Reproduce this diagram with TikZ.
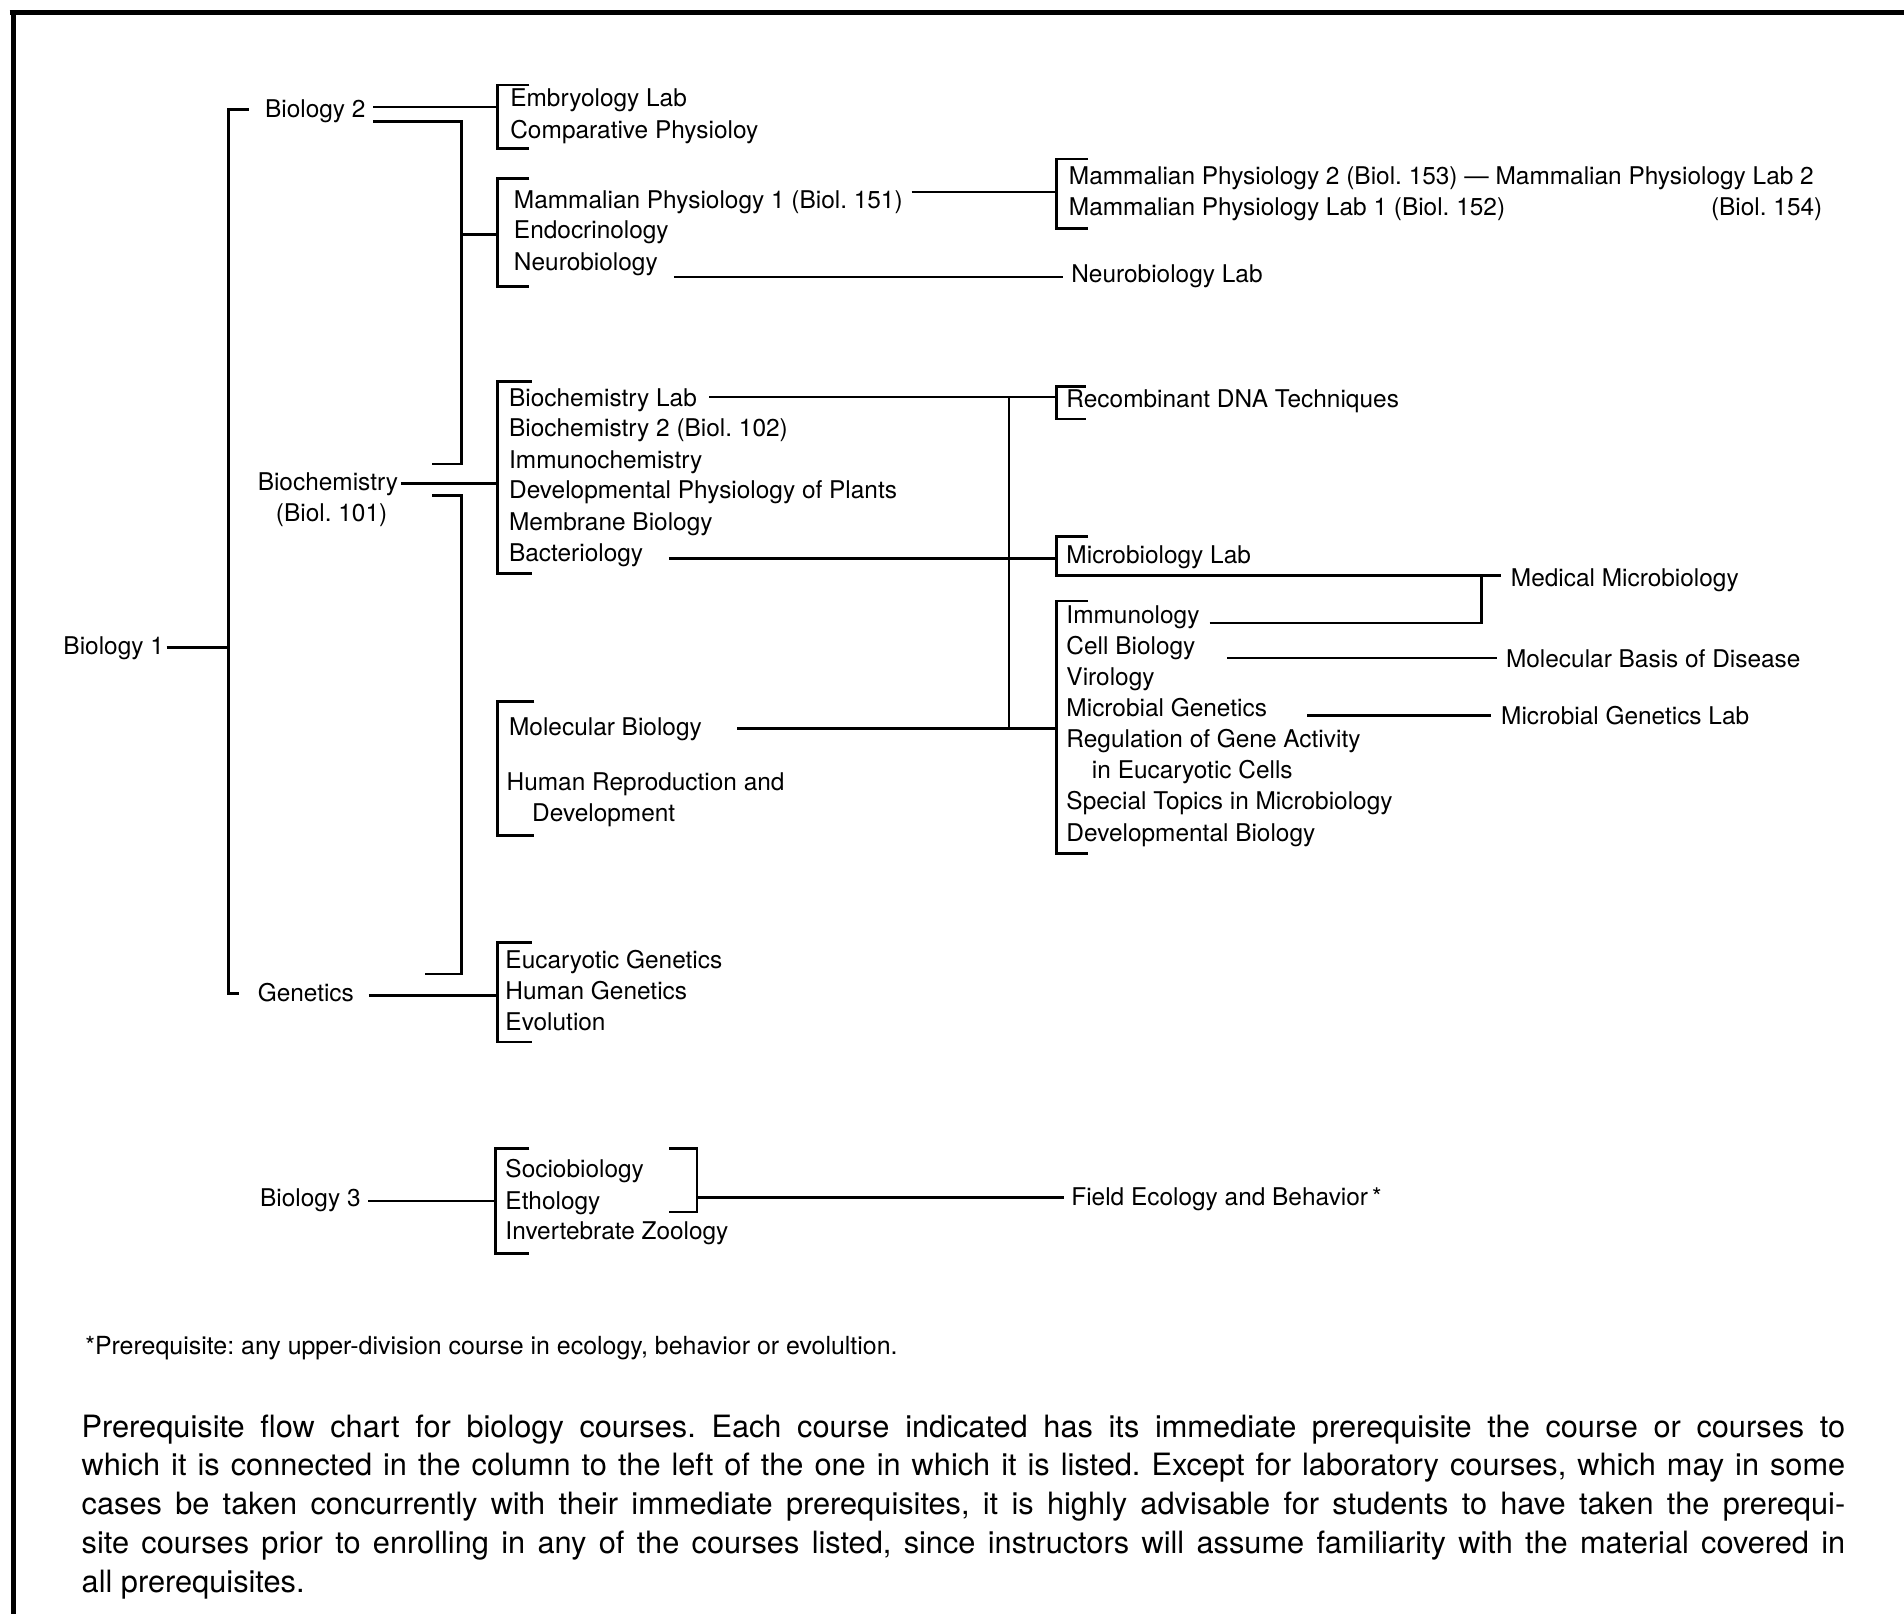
\documentclass[tikz,border=0pt]{standalone}
\usepackage{fontspec}
\setmainfont{TeX Gyre Heros}
\usetikzlibrary{calc}
\frenchspacing
\newcommand{\dfont}{\fontsize{14.3}{18}\selectfont}
\newcommand{\ffont}{\fontsize{14.6}{17}\selectfont}
\newcommand{\cfont}{\fontsize{18}{22}\selectfont}
% left bracket: name, x, ytop, ybottom, tick
\newcommand{\brkL}[5]{%
  \coordinate (#1) at (#2,#3);
  \draw[brk] (#2+#5,#3) -- (#2,#3) -- (#2,#4) -- (#2+#5,#4);}
\begin{document}
\begin{tikzpicture}[x=0.025cm,y=-0.025cm,
  lab/.style={anchor=west, inner sep=0pt, font=\dfont, text height=1.06em, text depth=0.1em},
  labe/.style={lab, anchor=east},
  fnote/.style={anchor=west, inner sep=0pt, font=\ffont, text height=1.06em, text depth=0.1em},
  capline/.style={anchor=west, inner sep=0pt, font=\cfont, text height=1.02em, text depth=0.1em},
  conn/.style={line width=1.5pt},
  brk/.style={line width=1.6pt},
  frame/.style={line width=2.8pt}]
\useasboundingbox (0,0) rectangle (1568,1329);

% frame (top and left only)
\draw[frame] (8,10) -- (1568,10);
\draw[frame] (11,9) -- (11,1329);

% ---------- column 1 / 2 texts
\node[lab] (bio1) at (52,532) {Biology 1};
\node[lab] (bio2) at (218,90) {Biology 2};
\node[lab] (biochem) at (212,397) {Biochemistry};
\node[lab] (biol101) at (227,423) {(Biol. 101)};
\node[lab] (genet) at (212,818) {Genetics};
\node[lab] (bio3) at (214,987) {Biology 3};

% ---------- column 3 texts
\node[lab] (embryo) at (420,81) {Embryology Lab};
\node[lab] (compphys) at (420,107) {Comparative Physioloy};
\node[lab] (mamm1) at (423,165) {Mammalian Physiology 1 (Biol. 151)};
\node[lab] (endo) at (423,190) {Endocrinology};
\node[lab] (neuro) at (423,216) {Neurobiology};
\node[lab] (bclab) at (419,328) {Biochemistry Lab};
\node[lab] (bc2) at (419,353) {Biochemistry 2 (Biol. 102)};
\node[lab] (immchem) at (419,379) {Immunochemistry};
\node[lab] (devplants) at (419,404) {Developmental Physiology of Plants};
\node[lab] (membr) at (419,430) {Membrane Biology};
\node[lab] (bact) at (419,456) {Bacteriology};
\node[lab] (molbio) at (419,599) {Molecular Biology};
\node[lab] (humrep) at (417,644) {Human Reproduction and};
\node[lab] (humrep2) at (438,670) {Development};
\node[lab] (eucgen) at (416,791) {Eucaryotic Genetics};
\node[lab] (humgen) at (416,816) {Human Genetics};
\node[lab] (evol) at (416,842) {Evolution};
\node[lab] (socio) at (416,963) {Sociobiology};
\node[lab] (etho) at (416,989) {Ethology};
\node[lab] (invz) at (416,1014) {Invertebrate Zoology};

% ---------- column 4 texts
\node[lab] (mamm2) at (880,145) {Mammalian Physiology 2 (Biol. 153) — Mammalian Physiology Lab 2};
\node[lab] (mamlab1) at (880,171) {Mammalian Physiology Lab 1 (Biol. 152)};
\node[labe] (b154) at (1501,171) {(Biol. 154)};
\node[lab] (neurolab) at (882,226) {Neurobiology Lab};
\node[lab] (recomb) at (878,329) {Recombinant DNA Techniques};
\node[lab] (microlab) at (878,457) {Microbiology Lab};
\node[lab] (immun) at (878,507) {Immunology};
\node[lab] (cellbio) at (878,532) {Cell Biology};
\node[lab] (virol) at (878,558) {Virology};
\node[lab] (micgen) at (878,583) {Microbial Genetics};
\node[lab] (reggene) at (878,609) {Regulation of Gene Activity};
\node[lab] (reggene2) at (899,634) {in Eucaryotic Cells};
\node[lab] (spectop) at (878,660) {Special Topics in Microbiology};
\node[lab] (devbio) at (878,686) {Developmental Biology};
\node[lab] (field) at (882,986) {Field Ecology and Behavior\,*};

% ---------- column 5 texts
\node[lab] (medmicro) at (1244,476) {Medical Microbiology};
\node[lab] (molbasis) at (1240,543) {Molecular Basis of Disease};
\node[lab] (micgenlab) at (1236,590) {Microbial Genetics Lab};

% ---------- footnote and caption
\node[fnote] (foot) at (70,1109) {*Prerequisite: any upper-division course in ecology, behavior or evolultion.};
\node[capline] (cap1) at (67,1177) {\makebox[36.3cm][s]{Prerequisite flow chart for biology courses. Each course indicated has its immediate prerequisite the course or courses to}};
\node[capline] (cap2) at (67,1209) {\makebox[36.3cm][s]{which it is connected in the column to the left of the one in which it is listed. Except for laboratory courses, which may in some}};
\node[capline] (cap3) at (67,1241) {\makebox[36.3cm][s]{cases be taken concurrently with their immediate prerequisites, it is highly advisable for students to have taken the prerequi-}};
\node[capline] (cap4) at (67,1273) {\makebox[36.3cm][s]{site courses prior to enrolling in any of the courses listed, since instructors will assume familiarity with the material covered in}};
\node[capline] (cap5) at (67,1305) {all prerequisites.};

% ---------- brackets
\brkL{brEmb}{410}{70}{122}{26}
\brkL{brMam}{410}{147}{236}{26}
\brkL{brBio}{410}{314}{472}{28}
\brkL{brMol}{410}{578}{688}{30}
\brkL{brEuc}{410}{776}{858}{28}
\brkL{brSoc}{408}{946}{1032}{28}
\brkL{brMam2}{870}{131}{188}{26}
\brkL{brRec}{870}{318}{345}{24}
\brkL{brBig}{870}{495}{703}{26}
% Microbiology Lab bracket whose foot runs on to Medical Microbiology
\coordinate (brMic) at (870,442);
\draw[brk] (896,442) -- (brMic) -- (870,474) -- ($(medmicro.west)+(-8,-2)$);
% right bracket of the Biology 3 group
\coordinate (brSocR) at (574,946);
\draw[brk] (551,946) -- (brSocR) -- (574,998) -- (551,998);

% ---------- Biology 1 tree
\coordinate (sp1) at (188,90);
\draw[conn] ($(bio1.east)+(2,1)$) coordinate (b1s) -- (b1s -| sp1);
\draw[conn] (205,90) -- (sp1) -- (188,818) -- (197,818);

% ---------- Biology 2
\draw[conn] ($(bio2.east)+(6,-2)$) coordinate (b2a) -- (b2a -| brEmb);
\coordinate (sp2) at (380,100);
\draw[conn] ($(bio2.east)+(6,10)$) coordinate (b2b) -- (sp2) -- (380,382) -- (356,382);
\draw[conn] (380,193) -- (380,193 -| brMam);

% ---------- Biochemistry
\draw[conn] ($(biochem.east)+(2,1)$) coordinate (bcs) -- (bcs -| brBio);
\coordinate (sp3) at (380,408);
\draw[conn] (356,408) -- (sp3) -- (380,802) -- (350,802);

% ---------- Genetics, Biology 3
\draw[conn] ($(genet.east)+(12,2)$) coordinate (gs) -- (gs -| brEuc);
\draw[conn] ($(bio3.east)+(6,2)$) coordinate (b3s) -- (b3s -| brSoc);
\draw[conn] (574,986) -- ($(field.west)+(-6,0)$);

% ---------- column 3 -> 4
\draw[conn] ($(mamm1.east)+(7,-7)$) coordinate (m1s) -- (m1s -| brMam2);
\draw[conn] ($(neuro.east)+(13,12)$) -- ($(neurolab.west)+(-7,2)$);
\draw[conn] ($(bclab.east)+(10,-1)$) coordinate (bls) -- (bls -| brRec);
\coordinate (sp4) at (831,327);
\draw[conn] (sp4) -- (831,600);
\draw[conn] ($(bact.east)+(21,4)$) coordinate (bas) -- (bas -| brMic);
\draw[conn] ($(molbio.east)+(29,1)$) coordinate (mbs) -- (mbs -| brBig);

% ---------- column 4 -> 5
\draw[conn] ($(immun.east)+(8,6)$) coordinate (ims) -- (1220,513) -- (1220,474);
\draw[conn] ($(cellbio.east)+(26,10)$) -- ($(molbasis.west)+(-7,-1)$);
\draw[conn] ($(micgen.east)+(33,6)$) -- ($(micgenlab.west)+(-8,-1)$);
\end{tikzpicture}
\end{document}
